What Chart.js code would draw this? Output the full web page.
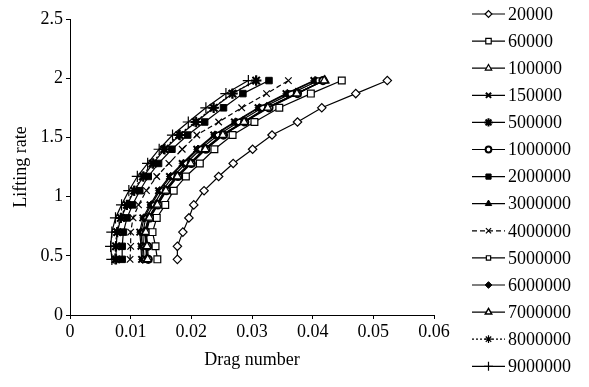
<!DOCTYPE html>
<html>
<head>
<meta charset="utf-8">
<title>Lifting rate vs drag number</title>
<script src="https://cdn.jsdelivr.net/npm/chart.js@4.4.1/dist/chart.umd.min.js"></script>
<style>
  html, body { margin: 0; padding: 0; background: #fff; }
  #chart { display: block; }
</style>
</head>
<body>
<canvas id="chart" width="589" height="387"></canvas>
<script>
// Reynolds numbers shown in the legend
const reLabels = ['20000', '60000', '100000', '150000', '500000', '1000000', '2000000',
  '3000000', '4000000', '5000000', '6000000', '7000000', '8000000', '9000000'];

// lifting rate (same levels for every curve)
const liftRate = [0.47, 0.58, 0.70, 0.82, 0.93, 1.05, 1.17, 1.28, 1.40, 1.52, 1.63, 1.75, 1.87, 1.98];

// drag number for each Reynolds number
const re20000   = [0.0177, 0.0177, 0.0186, 0.0196, 0.0204, 0.0221, 0.0245, 0.0269, 0.0301, 0.0333, 0.0375, 0.0415, 0.0471, 0.0523];
const re60000   = [0.0144, 0.0141, 0.0136, 0.0143, 0.0157, 0.0171, 0.0191, 0.0214, 0.0238, 0.0268, 0.0304, 0.0345, 0.0397, 0.0448];
const re100000  = [0.0128, 0.0127, 0.0125, 0.0131, 0.0144, 0.0158, 0.0177, 0.0199, 0.0223, 0.0252, 0.0287, 0.0326, 0.0374, 0.0419];
const re150000  = [0.0118, 0.0117, 0.0115, 0.0120, 0.0132, 0.0146, 0.0164, 0.0185, 0.0209, 0.0237, 0.0271, 0.0310, 0.0356, 0.0402];
const re500000  = [0.0076, 0.0076, 0.0078, 0.0084, 0.0094, 0.0106, 0.0121, 0.0137, 0.0156, 0.0181, 0.0208, 0.0237, 0.0268, 0.0307];
const re1000000 = [0.0129, 0.0128, 0.0126, 0.0132, 0.0145, 0.0159, 0.0178, 0.0200, 0.0224, 0.0253, 0.0288, 0.0328, 0.0375, 0.0417];
const re2000000 = [0.0086, 0.0086, 0.0088, 0.0094, 0.0103, 0.0115, 0.0129, 0.0146, 0.0168, 0.0194, 0.0222, 0.0253, 0.0285, 0.0328];
const re3000000 = [0.0127, 0.0126, 0.0124, 0.0130, 0.0143, 0.0157, 0.0176, 0.0198, 0.0222, 0.0251, 0.0286, 0.0325, 0.0373, 0.0418];
const re4000000 = [0.0099, 0.0100, 0.0100, 0.0104, 0.0113, 0.0126, 0.0143, 0.0163, 0.0185, 0.0209, 0.0245, 0.0283, 0.0324, 0.0360];
const re5000000 = [0.0122, 0.0121, 0.0120, 0.0125, 0.0138, 0.0152, 0.0170, 0.0191, 0.0215, 0.0244, 0.0278, 0.0317, 0.0364, 0.0410];
const re6000000 = [0.0120, 0.0119, 0.0117, 0.0122, 0.0134, 0.0148, 0.0166, 0.0187, 0.0211, 0.0239, 0.0273, 0.0312, 0.0358, 0.0404];
const re7000000 = [0.0126, 0.0125, 0.0123, 0.0129, 0.0142, 0.0156, 0.0175, 0.0197, 0.0221, 0.0250, 0.0285, 0.0324, 0.0372, 0.0420];
const re8000000 = [0.0074, 0.0075, 0.0077, 0.0083, 0.0093, 0.0105, 0.0119, 0.0135, 0.0154, 0.0179, 0.0206, 0.0236, 0.0267, 0.0306];
const re9000000 = [0.0069, 0.0067, 0.0069, 0.0075, 0.0085, 0.0097, 0.0111, 0.0128, 0.0147, 0.0169, 0.0195, 0.0224, 0.0257, 0.0294];

const dragSeries = [re20000, re60000, re100000, re150000, re500000, re1000000, re2000000,
  re3000000, re4000000, re5000000, re6000000, re7000000, re8000000, re9000000];

const xTickLabels = ['0', '0.01', '0.02', '0.03', '0.04', '0.05', '0.06'];
const yTickLabels = ['0', '0.5', '1', '1.5', '2', '2.5'];

// marker look per series (Excel-style black & white)
const markers = [
  { style: 'rectRot',  r: 4.2, fill: '#fff', bw: 1.2 },
  { style: 'rect',     r: 4.8, fill: '#fff', bw: 1.2 },
  { style: 'triangle', r: 4.6, fill: '#fff', bw: 1.2 },
  { style: 'crossRot', r: 4.6, fill: '#000', bw: 2 },
  { style: 'star',     r: 5.2, fill: '#000', bw: 2 },
  { style: 'circle',   r: 3.6, fill: '#fff', bw: 2 },
  { style: 'rect',     r: 4.6, fill: '#000', bw: 1 },
  { style: 'triangle', r: 4.6, fill: '#000', bw: 1 },
  { style: 'crossRot', r: 4.6, fill: '#000', bw: 1.2, dash: [5, 3] },
  { style: 'rect',     r: 3.8, fill: '#fff', bw: 1.2 },
  { style: 'rectRot',  r: 4.2, fill: '#000', bw: 1 },
  { style: 'triangle', r: 4.6, fill: '#fff', bw: 1.5 },
  { style: 'star',     r: 4.8, fill: '#000', bw: 1.2, dash: [2, 2] },
  { style: 'cross',    r: 5.6, fill: '#000', bw: 1.2 }
];

const serif = '"Liberation Serif", "Times New Roman", serif';

const datasets = dragSeries.map((xs, i) => ({
  label: reLabels[i],
  data: xs.map((x, k) => ({ x: x, y: liftRate[k] })),
  showLine: true,
  borderColor: '#000',
  borderWidth: 1.2,
  borderDash: markers[i].dash || [],
  pointStyle: markers[i].style,
  pointRadius: markers[i].r,
  pointBackgroundColor: markers[i].fill,
  pointBorderColor: '#000',
  pointBorderWidth: markers[i].bw,
  tension: 0
}));

// legend on the right: line segment with marker, then label
const sideLegend = {
  id: 'sideLegend',
  afterDraw(chart) {
    const ctx = chart.ctx;
    const x0 = 472, x1 = 505, tx = 508;
    ctx.save();
    ctx.font = '18px ' + serif;
    ctx.textBaseline = 'middle';
    ctx.textAlign = 'left';
    reLabels.forEach((lab, i) => {
      const y = 14 + 27.1 * i;
      const m = markers[i];
      ctx.strokeStyle = '#000';
      ctx.lineWidth = 1.2;
      ctx.setLineDash(m.dash || []);
      ctx.beginPath();
      ctx.moveTo(x0, y);
      ctx.lineTo(x1, y);
      ctx.stroke();
      ctx.setLineDash([]);
      ctx.fillStyle = m.fill;
      ctx.lineWidth = m.bw;
      Chart.helpers.drawPoint(ctx, { pointStyle: m.style, radius: m.r * 0.8, rotation: 0, borderWidth: m.bw }, (x0 + x1) / 2, y);
      ctx.fillStyle = '#000';
      ctx.fillText(lab, tx, y + 1);
    });
    ctx.restore();
  }
};

new Chart(document.getElementById('chart'), {
  type: 'scatter',
  data: { datasets: datasets },
  plugins: [sideLegend],
  options: {
    responsive: false,
    animation: false,
    devicePixelRatio: 1,
    layout: { padding: { top: 19, right: 155, bottom: 0, left: 0 } },
    plugins: {
      legend: { display: false },
      tooltip: { enabled: false }
    },
    scales: {
      x: {
        type: 'linear',
        min: 0,
        max: 0.06,
        afterFit: s => { s.height = 72; },
        ticks: {
          stepSize: 0.01,
          color: '#000',
          padding: 2,
          maxRotation: 0,
          font: { family: serif, size: 18 },
          callback: (v, i) => xTickLabels[i]
        },
        grid: { drawOnChartArea: false, drawTicks: true, tickLength: 4, color: '#000' },
        border: { display: true, color: '#000', width: 1 },
        title: {
          display: true,
          text: 'Drag number',
          color: '#000',
          font: { family: serif, size: 18 },
          padding: { top: 4, bottom: 16 }
        }
      },
      y: {
        type: 'linear',
        min: 0,
        max: 2.5,
        afterFit: s => { s.width = 70; },
        ticks: {
          stepSize: 0.5,
          color: '#000',
          padding: 3,
          font: { family: serif, size: 18 },
          callback: (v, i) => yTickLabels[i]
        },
        grid: { drawOnChartArea: false, drawTicks: true, tickLength: 4, color: '#000' },
        border: { display: true, color: '#000', width: 1 },
        title: {
          display: true,
          text: 'Lifting rate',
          color: '#000',
          font: { family: serif, size: 18 },
          padding: { top: 10, bottom: 0 }
        }
      }
    }
  }
});
</script>
</body>
</html>
